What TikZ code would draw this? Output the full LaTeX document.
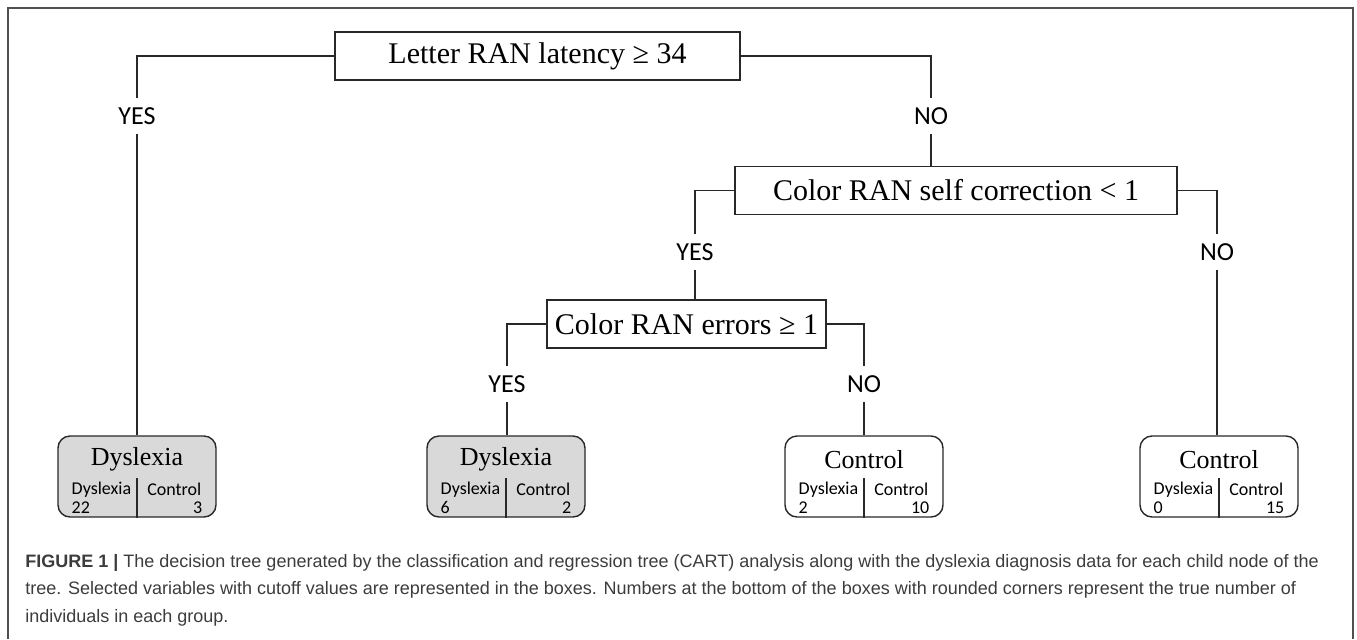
\documentclass[tikz,border=0pt]{standalone}
\usepackage{fontspec}
\setmainfont{Liberation Serif}
\newfontfamily\calib{Carlito}
\newfontfamily\capfont{Liberation Sans}
\usetikzlibrary{positioning}
\definecolor{leafgray}{RGB}{217,217,217}
\definecolor{framegray}{RGB}{80,80,80}
\definecolor{capgray}{RGB}{60,60,60}
\definecolor{linegray}{RGB}{40,40,40}

\begin{document}
\begin{tikzpicture}[x=0.5pt,y=-0.5pt,
  test/.style={draw=linegray,line width=0.7pt,minimum height=24pt,inner sep=0pt,font=\fontsize{15}{17}\selectfont},
  leaf/.style={draw=linegray,line width=0.7pt,rounded corners=6pt,minimum width=79pt,minimum height=40.5pt,inner sep=0pt},
  ans/.style={inner sep=0pt,minimum height=18pt,font=\calib\fontsize{13}{15}\selectfont},
  small/.style={inner sep=0pt,font=\calib\fontsize{9}{10}\selectfont},
  leaftitle/.style={inner sep=0pt,font=\fontsize{13}{15}\selectfont},
  line/.style={draw=linegray,line width=0.7pt}]

\useasboundingbox (0,0) rectangle (1357,639);
\draw[framegray,line width=0.9pt] (8,639) -- (8,8) -- (1353,8) -- (1353,639);

% split boxes
\node[test,minimum width=202.5pt] (latency) at (537.5,56) {Letter RAN latency ≥ 34};
\node[test,minimum width=221pt] (selfcorr) at (956,190.5) {Color RAN self correction < 1};
\node[test,minimum width=139.5pt] (errors) at (686.5,324) {Color RAN errors ≥ 1};

% answers
\node[ans] (yesA) at (137,116) {YES};
\node[ans] (noA) at (931,116) {NO};
\node[ans] (yesB) at (695,252) {YES};
\node[ans] (noB) at (1217,252) {NO};
\node[ans] (yesC) at (507,384) {YES};
\node[ans] (noC) at (864,384) {NO};

% leaves
\node[leaf,fill=leafgray] (dysA) at (137,476.5) {};
\node[leaf,fill=leafgray] (dysB) at (506,476.5) {};
\node[leaf] (conA) at (864,476.5) {};
\node[leaf] (conB) at (1219,476.5) {};

\foreach \n/\t/\a/\b in {dysA/Dyslexia/22/3, dysB/Dyslexia/6/2, conA/Control/2/10, conB/Control/0/15}
{
  \node[leaftitle] (\n-title) at ([yshift=-12pt]\n.north) {\t};
  \draw[line] (\n.south) -- ++(0,-40);
  \node[small,anchor=west] (\n-dl) at ([xshift=7pt,yshift=-27pt]\n.north west) {Dyslexia};
  \node[small,anchor=west] (\n-dn) at ([xshift=7pt,yshift=-36pt]\n.north west) {\a};
  \node[small,anchor=east] (\n-cl) at ([xshift=-7.5pt,yshift=-27pt]\n.north east) {Control};
  \node[small,anchor=east] (\n-cn) at ([xshift=-7pt,yshift=-36pt]\n.north east) {\b};
}

% connectors
\draw[line] (latency.west) -| (yesA.north);
\draw[line] (yesA.south) -- (yesA.south |- dysA.north);
\draw[line] (latency.east) -| (noA.north);
\draw[line] (noA.south) -- (noA.south |- selfcorr.north);
\draw[line] (selfcorr.west) -| (yesB.north);
\draw[line] (yesB.south) -- (yesB.south |- errors.north);
\draw[line] (selfcorr.east) -| (noB.north);
\draw[line] (noB.south) -- (noB.south |- conB.north);
\draw[line] (errors.west) -| (yesC.north);
\draw[line] (yesC.south) -- (yesC.south |- dysB.north);
\draw[line] (errors.east) -| (noC.north);
\draw[line] (noC.south) -- (noC.south |- conA.north);

% caption
\node[anchor=north west,align=left,inner sep=0pt,text=capgray,font=\capfont\fontsize{9}{13.75}\selectfont] (caption) at (25,554)
  {\textbf{FIGURE 1 |} The decision tree generated by the classification and regression tree (CART) analysis along with the dyslexia diagnosis data for each child node of the\\
   tree. Selected variables with cutoff values are represented in the boxes. Numbers at the bottom of the boxes with rounded corners represent the true number of\\
   individuals in each group.};

\end{tikzpicture}
\end{document}
